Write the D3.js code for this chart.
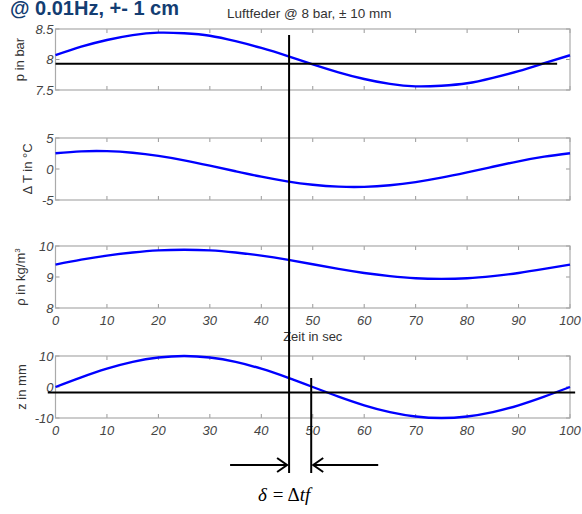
<!DOCTYPE html>
<html lang="de">
<head>
  <meta charset="UTF-8">
  <title>Luftfeder @ 8 bar</title>
  <style>
    * { margin: 0; box-sizing: border-box; }
    body { background: #fff; font-family: "Liberation Sans", Arial, sans-serif; }
    svg { display: block; }
    .frame { fill: none; stroke: #aaa; stroke-width: 1.2; }
    .tick { stroke: #999; stroke-width: 1; }
    .ticklabel { font-size: 13px; font-style: italic; fill: #444; }
    .ylabel, .xlabel { font-size: 13px; fill: #333; }
    .curve { fill: none; stroke: #0000ff; stroke-width: 2.4; }
    .mark { stroke: #000; stroke-width: 2; fill: none; }
  </style>
</head>
<body>
  <svg></svg>
  <script src="https://d3js.org/d3.v7.min.js"></script>
  <script>
    // Zeit in sec
    const zeit = [0, 5, 10, 15, 20, 25, 30, 35, 40, 45, 50, 55, 60, 65, 70, 75, 80, 85, 90, 95, 100];

    // Druck p in bar
    const druck = [8.07, 8.21, 8.32, 8.40, 8.44, 8.43, 8.39, 8.30, 8.19, 8.06, 7.92,
                   7.79, 7.68, 7.60, 7.56, 7.57, 7.61, 7.70, 7.81, 7.94, 8.07];
    // Temperaturdifferenz in °C
    const deltaT = [2.54, 2.85, 2.88, 2.62, 2.11, 1.40, 0.54, -0.36, -1.24, -1.99, -2.54,
                    -2.85, -2.88, -2.62, -2.11, -1.40, -0.54, 0.36, 1.24, 1.99, 2.54];
    // Dichte in kg/m3
    const dichte = [9.40, 9.56, 9.69, 9.79, 9.86, 9.88, 9.86, 9.79, 9.69, 9.56, 9.41,
                    9.26, 9.13, 9.03, 8.96, 8.94, 8.96, 9.03, 9.13, 9.26, 9.40];
    // Weg z in mm
    const weg = [0, 3.1, 5.9, 8.1, 9.5, 10, 9.5, 8.1, 5.9, 3.1, 0,
                 -3.1, -5.9, -8.1, -9.5, -10, -9.5, -8.1, -5.9, -3.1, 0];

    const xTicks = [0, 10, 20, 30, 40, 50, 60, 70, 80, 90, 100];
    const pTicks = [7.5, 8, 8.5];
    const tTicks = [-5, 0, 5];
    const rhoTicks = [8, 9, 10];
    const zTicks = [-10, 0, 10];

    // reference lines / phase markers
    const pRef = 7.93;      // bar
    const zRef = -1.8;      // mm
    const tMarks = [45.4, 49.7]; // sec

    const width = 582, height = 514;
    const svg = d3.select('svg').attr('width', width).attr('height', height);

    const x = d3.scaleLinear().domain([0, 100]).range([55.5, 570]);

    const panels = [
      { values: druck,  domain: [7.5, 8.5], range: [90, 29],   ticks: pTicks,   label: 'p in bar',  lx: 24, xlabels: false },
      { values: deltaT, domain: [-5, 5],   range: [200, 138], ticks: tTicks,   label: '\u0394 T in \u00B0C', lx: 32, xlabels: false },
      { values: dichte, domain: [8, 10],   range: [308, 246], ticks: rhoTicks, label: 'rho', lx: 25, xlabels: true },
      { values: weg,    domain: [-10, 10], range: [418, 356], ticks: zTicks,   label: 'z in mm',   lx: 26, xlabels: true }
    ];

    panels.forEach(pn => {
      const y = d3.scaleLinear().domain(pn.domain).range(pn.range);
      pn.y = y;
      const g = svg.append('g');
      const [x0, x1] = x.range();
      const [yb, yt] = y.range();

      // x ticks top and bottom, inward
      xTicks.forEach(t => {
        g.append('line').attr('class', 'tick')
          .attr('x1', x(t)).attr('x2', x(t)).attr('y1', yb).attr('y2', yb - 4);
        g.append('line').attr('class', 'tick')
          .attr('x1', x(t)).attr('x2', x(t)).attr('y1', yt).attr('y2', yt + 4);
      });
      // y ticks left and right
      pn.ticks.forEach(v => {
        g.append('line').attr('class', 'tick')
          .attr('x1', x0).attr('x2', x0 + 4).attr('y1', y(v)).attr('y2', y(v));
        g.append('line').attr('class', 'tick')
          .attr('x1', x1).attr('x2', x1 - 4).attr('y1', y(v)).attr('y2', y(v));
        g.append('text').attr('class', 'ticklabel')
          .attr('x', x0 - 2).attr('y', y(v)).attr('dy', '0.36em')
          .attr('text-anchor', 'end')
          .text(v);
      });

      g.append('rect').attr('class', 'frame')
        .attr('x', x0).attr('y', yt).attr('width', x1 - x0).attr('height', yb - yt);

      if (pn.xlabels) {
        xTicks.forEach(t => {
          g.append('text').attr('class', 'ticklabel')
            .attr('x', x(t)).attr('y', yb + 17)
            .attr('text-anchor', 'middle')
            .text(t);
        });
      }

      const line = d3.line()
        .x((d, k) => x(zeit[k]))
        .y(d => y(d))
        .curve(d3.curveNatural);
      g.append('path').attr('class', 'curve').attr('d', line(pn.values));

      // rotated y label
      const lab = g.append('text').attr('class', 'ylabel')
        .attr('text-anchor', 'middle')
        .attr('transform', `translate(${pn.lx},${(yb + yt) / 2}) rotate(-90)`);
      if (pn.label === 'rho') {
        lab.append('tspan').text('\u03C1 in kg/m');
        lab.append('tspan').attr('dy', -5).style('font-size', '8px').text('3');
      } else {
        lab.text(pn.label);
      }
    });

    // x axis label
    svg.append('text').attr('class', 'xlabel')
      .attr('x', (x.range()[0] + x.range()[1]) / 2).attr('y', 341)
      .attr('text-anchor', 'middle')
      .text('Zeit in sec');

    // titles
    svg.append('text')
      .attr('x', 10).attr('y', 15)
      .style('font-size', '20px').style('font-weight', 'bold').style('fill', '#133d72')
      .text('@ 0.01Hz, +- 1 cm');
    svg.append('text')
      .attr('x', 227).attr('y', 18)
      .style('font-size', '13.5px').style('fill', '#333')
      .text('Luftfeder @ 8 bar, \u00B1 10 mm');

    // reference lines
    const yp = panels[0].y, yz = panels[3].y;
    svg.append('line').attr('class', 'mark')
      .attr('x1', x(0)).attr('x2', x(97.5)).attr('y1', yp(pRef)).attr('y2', yp(pRef));
    svg.append('line').attr('class', 'mark')
      .attr('x1', x(-1.5)).attr('x2', x(101)).attr('y1', yz(zRef)).attr('y2', yz(zRef));

    // phase markers
    const arrowY = 465;
    svg.append('line').attr('class', 'mark')
      .attr('x1', x(tMarks[0])).attr('x2', x(tMarks[0])).attr('y1', 35).attr('y2', 473);
    svg.append('line').attr('class', 'mark')
      .attr('x1', x(tMarks[1])).attr('x2', x(tMarks[1])).attr('y1', 378).attr('y2', 473);

    const xa = x(tMarks[0]) - 2, xb = x(tMarks[1]) + 2;
    svg.append('line').attr('class', 'mark')
      .attr('x1', xa - 57).attr('x2', xa).attr('y1', arrowY).attr('y2', arrowY);
    svg.append('path').attr('class', 'mark')
      .attr('d', `M${xa - 10},${arrowY - 7} L${xa},${arrowY} L${xa - 10},${arrowY + 7}`);
    svg.append('line').attr('class', 'mark')
      .attr('x1', xb).attr('x2', xb + 65).attr('y1', arrowY).attr('y2', arrowY);
    svg.append('path').attr('class', 'mark')
      .attr('d', `M${xb + 10},${arrowY - 7} L${xb},${arrowY} L${xb + 10},${arrowY + 7}`);

    const f = svg.append('text')
      .attr('x', 258).attr('y', 501)
      .style('font-family', '"Liberation Serif", "Times New Roman", serif')
      .style('font-size', '19px').style('fill', '#000');
    f.append('tspan').style('font-style', 'italic').text('\u03B4');
    f.append('tspan').attr('dx', 6).text('=');
    f.append('tspan').attr('dx', 4).text('\u0394');
    f.append('tspan').style('font-style', 'italic').text('tf');
  </script>
</body>
</html>
